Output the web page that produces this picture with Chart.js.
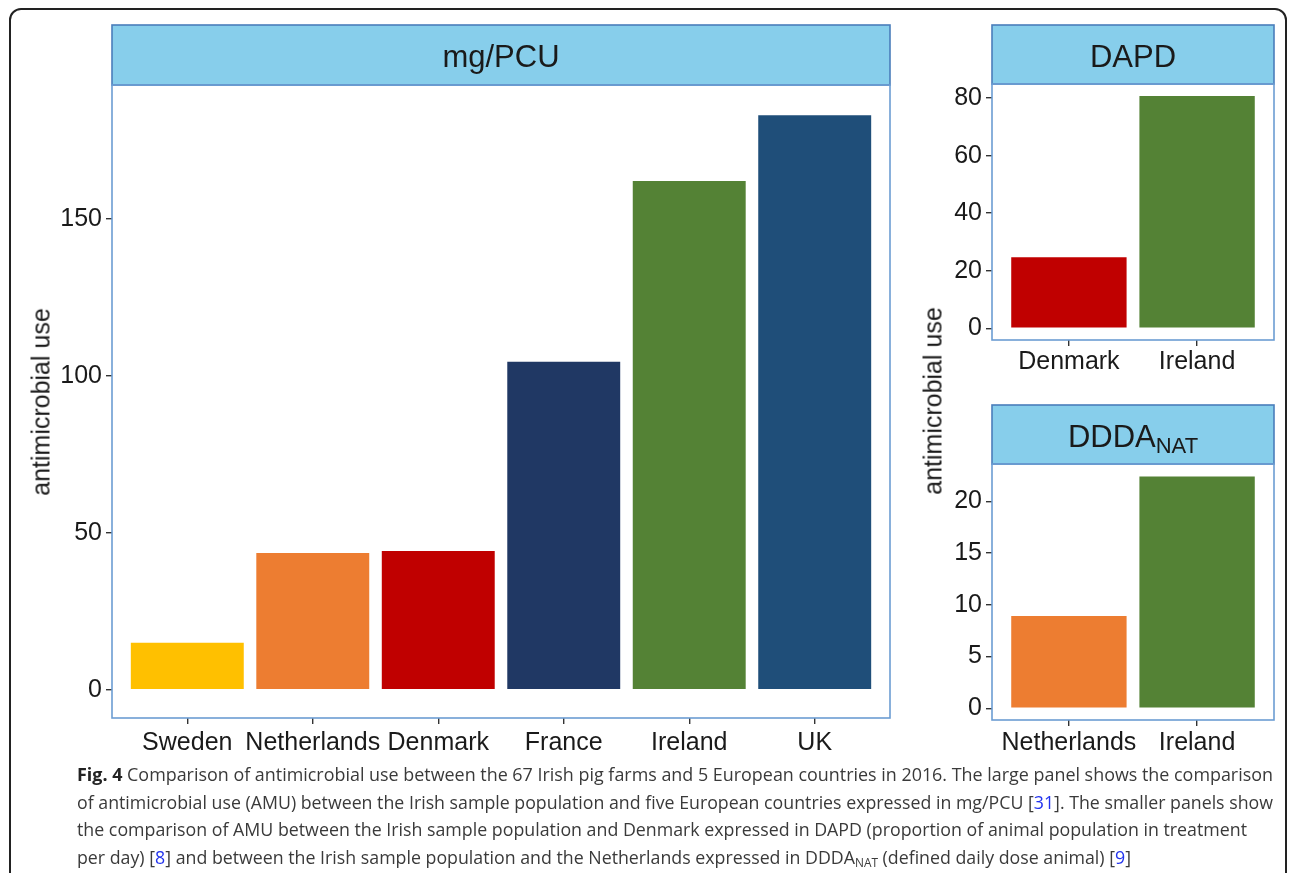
<!DOCTYPE html>
<html lang="en">
<head>
  <meta charset="UTF-8">
  <title>Antimicrobial use comparison</title>
  <script src="https://cdn.jsdelivr.net/npm/chart.js"></script>
  <style>
    body { margin: 0; background: #fff; width: 1293px; height: 873px; overflow: hidden; position: relative; }
    #frame { position: absolute; left: 9px; top: 8px; width: 1278px; height: 880px; border: 2px solid #222; border-radius: 12px; box-sizing: border-box; }
    canvas { position: absolute; }
    .ytitle { position: absolute; white-space: nowrap; font: 25px "Liberation Sans", Arial, sans-serif; color: #1a1a1a;
              transform: translate(-50%, -50%) rotate(-90deg); }
    #caption { position: absolute; left: 77px; top: 761px; font-family: "Open Sans", sans-serif; font-size: 18px;
               line-height: 27.5px; color: #3a3a3a; }
    #caption .line { white-space: nowrap; width: max-content; transform-origin: 0 0; }
    #caption b { color: #222; }
    #caption a { color: #2233ee; text-decoration: none; }
    #caption sub { font-size: 12px; vertical-align: -3px; line-height: 0; }
  </style>
</head>
<body>
  <div id="frame"></div>

  <canvas id="mgChart" width="900" height="790" style="left:0;top:0"></canvas>
  <canvas id="dapdChart" width="340" height="390" style="left:945px;top:0"></canvas>
  <canvas id="dddaChart" width="340" height="410" style="left:945px;top:380px"></canvas>

  <div class="ytitle" style="left:41px;top:402px">antimicrobial use</div>
  <div class="ytitle" style="left:933px;top:401px">antimicrobial use</div>

  <div id="caption">
    <div class="line" data-w="1196"><b>Fig. 4</b> Comparison of antimicrobial use between the 67 Irish pig farms and 5 European countries in 2016. The large panel shows the comparison</div>
    <div class="line" data-w="1196">of antimicrobial use (AMU) between the Irish sample population and five European countries expressed in mg/PCU [<a>31</a>]. The smaller panels show</div>
    <div class="line" data-w="1170">the comparison of AMU between the Irish sample population and Denmark expressed in DAPD (proportion of animal population in treatment</div>
    <div class="line" data-w="1054">per day) [<a>8</a>] and between the Irish sample population and the Netherlands expressed in DDDA<sub>NAT</sub> (defined daily dose animal) [<a>9</a>]</div>
  </div>

  <script>
    // mg/PCU panel
    const mgCountries = ['Sweden', 'Netherlands', 'Denmark', 'France', 'Ireland', 'UK'];
    const mgValues = [15.0, 43.6, 44.2, 104.5, 162.1, 183.1];
    const mgColors = ['#FFC000', '#ED7D31', '#C00000', '#203864', '#548235', '#1F4E79'];
    const mgTicks = [0, 50, 100, 150];

    // DAPD panel
    const dapdCountries = ['Denmark', 'Ireland'];
    const dapdValues = [24.7, 80.7];
    const dapdColors = ['#C00000', '#548235'];
    const dapdTicks = [0, 20, 40, 60, 80];

    // DDDA_NAT panel
    const dddaCountries = ['Netherlands', 'Ireland'];
    const dddaValues = [8.9, 22.4];
    const dddaColors = ['#ED7D31', '#548235'];
    const dddaTicks = [0, 5, 10, 15, 20];

    Chart.defaults.font.family = '"Liberation Sans", Arial, sans-serif';
    Chart.defaults.font.size = 25;
    Chart.defaults.color = '#1a1a1a';

    // draws the facet strip above the plot and the panel border
    const panelFrame = {
      id: 'panelFrame',
      beforeDraw(chart, args, opts) {
        const a = chart.chartArea;
        const ctx = chart.ctx;
        const top = a.top - opts.stripHeight;
        ctx.save();
        ctx.fillStyle = '#87CEEB';
        ctx.fillRect(a.left, top, a.right - a.left, opts.stripHeight);
        ctx.strokeStyle = '#4a7ebb';
        ctx.lineWidth = 1.6;
        ctx.strokeRect(a.left, top, a.right - a.left, opts.stripHeight);

        ctx.fillStyle = '#1a1a1a';
        ctx.textBaseline = 'alphabetic';
        ctx.font = '31px "Liberation Sans", Arial, sans-serif';
        const mainW = ctx.measureText(opts.title).width;
        let subW = 0;
        if (opts.sub) {
          ctx.font = '22px "Liberation Sans", Arial, sans-serif';
          subW = ctx.measureText(opts.sub).width;
        }
        const cx = (a.left + a.right) / 2;
        const x0 = cx - (mainW + subW) / 2;
        const base = top + opts.stripHeight / 2 + 12;
        ctx.font = '31px "Liberation Sans", Arial, sans-serif';
        ctx.textAlign = 'left';
        ctx.fillText(opts.title, x0, base);
        if (opts.sub) {
          ctx.font = '22px "Liberation Sans", Arial, sans-serif';
          ctx.fillText(opts.sub, x0 + mainW, base + 6);
        }
        ctx.restore();
      },
      afterDatasetsDraw(chart) {
        const a = chart.chartArea;
        const ctx = chart.ctx;
        ctx.save();
        ctx.strokeStyle = '#6c9dd3';
        ctx.lineWidth = 1.6;
        ctx.strokeRect(a.left, a.top, a.right - a.left, a.bottom - a.top);
        ctx.restore();
      }
    };

    function makePanel(id, cats, vals, colors, ticks, cfg) {
      return new Chart(document.getElementById(id), {
        type: 'bar',
        data: {
          datasets: [{
            data: vals.map((v, i) => ({ x: i + 1, y: v })),
            backgroundColor: colors,
            borderWidth: 0,
            categoryPercentage: 1,
            barPercentage: 0.9
          }]
        },
        options: {
          responsive: false,
          animation: false,
          devicePixelRatio: 1,
          layout: { padding: { top: cfg.padTop, right: cfg.padRight, left: 0, bottom: 0 } },
          plugins: {
            legend: { display: false },
            tooltip: { enabled: false },
            panelFrame: { title: cfg.title, sub: cfg.sub, stripHeight: cfg.stripHeight }
          },
          scales: {
            x: {
              type: 'linear',
              offset: false,
              min: 0.4,
              max: cats.length + 0.6,
              afterBuildTicks: s => { s.ticks = cats.map((c, i) => ({ value: i + 1 })); },
              afterFit: s => { s.height = cfg.xHeight; },
              ticks: { callback: v => cats[v - 1], autoSkip: false, maxRotation: 0, padding: cfg.xPad },
              grid: { offset: false, drawOnChartArea: false, drawTicks: true, tickLength: 6, color: '#333', lineWidth: 1.4 },
              border: { display: false }
            },
            y: {
              min: cfg.yMin,
              max: cfg.yMax,
              afterBuildTicks: s => { s.ticks = ticks.map(v => ({ value: v })); },
              afterFit: s => { s.width = cfg.yWidth; },
              ticks: { padding: 4 },
              grid: { drawOnChartArea: false, drawTicks: true, tickLength: 6, color: '#333', lineWidth: 1.4 },
              border: { display: false }
            }
          }
        },
        plugins: [panelFrame]
      });
    }

    makePanel('mgChart', mgCountries, mgValues, mgColors, mgTicks, {
      title: 'mg/PCU', stripHeight: 60, padTop: 85, padRight: 10, xPad: 4,
      yWidth: 112, xHeight: 72, yMin: -9.0, yMax: 192.7
    });

    makePanel('dapdChart', dapdCountries, dapdValues, dapdColors, dapdTicks, {
      title: 'DAPD', stripHeight: 59, padTop: 84, padRight: 11, xPad: 1,
      yWidth: 47, xHeight: 50, yMin: -4.1, yMax: 84.9
    });

    makePanel('dddaChart', dddaCountries, dddaValues, dddaColors, dddaTicks, {
      title: 'DDDA', sub: 'NAT', stripHeight: 59, padTop: 84, padRight: 11, xPad: 2,
      yWidth: 47, xHeight: 70, yMin: -1.14, yMax: 23.6
    });

    // squeeze each caption line to the width it has in the figure
    document.querySelectorAll('#caption .line').forEach(line => {
      const w = line.getBoundingClientRect().width;
      line.style.transform = `scaleX(${line.dataset.w / w})`;
    });
  </script>
</body>
</html>
